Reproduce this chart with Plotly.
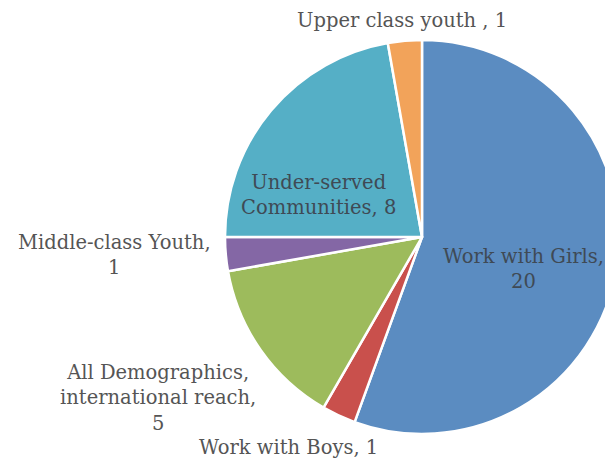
import plotly.graph_objects as go

categories = ["Work with Girls", "Work with Boys", "All Demographics, international reach",
              "Middle-class Youth", "Under-served Communities", "Upper class youth "]
values = [20, 1, 5, 1, 8, 1]
colors = ["#5B8CC1", "#C9504C", "#9DBB5C", "#8467A5", "#55AFC6", "#F2A35A"]

# label text (with line breaks) and label anchor positions in pixels
label_texts = [
    f"{categories[0]},<br>{values[0]}",
    f"{categories[1]}, {values[1]}",
    f"All Demographics,<br>international reach,<br>{values[2]}",
    f"{categories[3]},<br>{values[3]}",
    f"Under-served<br>Communities, {values[4]}",
    f"{categories[5]}, {values[5]}",
]
label_px = [(523, 269), (288, 447), (158, 398), (114, 255), (318, 195), (402, 20)]

W, H = 640, 461
cx, cy, r = 422, 237, 197

fig = go.Figure(go.Pie(
    labels=categories,
    values=values,
    sort=False,
    direction="clockwise",
    rotation=0,
    marker=dict(colors=colors, line=dict(color="white", width=2.5)),
    textinfo="none",
    hoverinfo="label+value",
    domain=dict(x=[(cx - r) / W, (cx + r) / W], y=[(H - (cy + r)) / H, (H - (cy - r)) / H]),
    showlegend=False,
))

for i, (txt, (px, py)) in enumerate(zip(label_texts, label_px)):
    inside = i in (0, 4)
    fig.add_annotation(
        text=txt, x=px / W, y=1 - py / H, xref="paper", yref="paper",
        xanchor="center", yanchor="middle", showarrow=False, align="center",
        font=dict(family="DejaVu Serif", size=19.5, color="#3F4A55" if inside else "#555555"),
    )

fig.update_layout(
    width=W, height=H,
    margin=dict(l=0, r=0, t=0, b=0),
    paper_bgcolor="white", plot_bgcolor="white",
)

fig.write_html(
    "out.html",
    post_script="document.documentElement.style.overflow='hidden';document.body.style.overflow='hidden';document.body.style.margin='0';",
)
